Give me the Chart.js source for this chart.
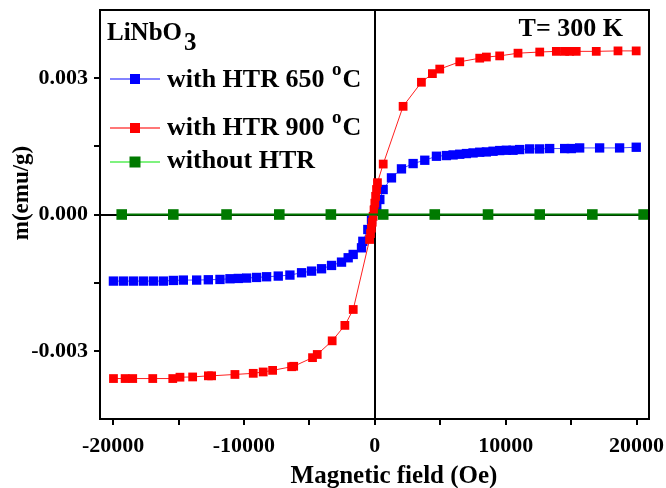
<!DOCTYPE html>
<html>
<head>
<meta charset="utf-8">
<script src="https://cdn.jsdelivr.net/npm/chart.js@4.4.1/dist/chart.umd.min.js"></script>
<style>
  html, body { margin: 0; padding: 0; background: #fff; }
  #box { width: 666px; height: 488px; position: relative; }
</style>
</head>
<body>
<div id="box"><canvas id="grafico"></canvas></div>
<script>
// valori (campo in Oe, m in emu/g)
const seriesNames = ['with HTR 650', 'with HTR 900', 'without HTR'];

const htr650 = [
  [-19975, -0.001465], [-19212, -0.001465], [-18448, -0.001465], [-17685, -0.001465],
  [-16922, -0.001465], [-16158, -0.001465], [-15395, -0.001451], [-14632, -0.001443],
  [-13614, -0.001443], [-12723, -0.001436], [-11833, -0.001429], [-11069, -0.001414],
  [-10433, -0.001407], [-9797, -0.001399], [-9033, -0.001385], [-8270, -0.00137],
  [-7379, -0.001355], [-6489, -0.001333], [-5598, -0.001282], [-4835, -0.001246],
  [-4071, -0.001194], [-3308, -0.001121], [-2545, -0.001048], [-2036, -0.000952],
  [-1654, -0.000879], [-1018, -0.000733], [-916, -0.00059], [-534, -0.00033],
  [-254, -0.00011], [0, 0.0001], [150, 0.0002], [382, 0.00033], [636, 0.00055],
  [1272, 0.000806], [2036, 0.001004], [2926, 0.001121], [3817, 0.001194],
  [4708, 0.001282], [5471, 0.001297], [5980, 0.001311], [6489, 0.001326],
  [6997, 0.001341], [7506, 0.001355], [8015, 0.00137], [8524, 0.001377],
  [9033, 0.001392], [9542, 0.001407], [10051, 0.001414], [10560, 0.001414],
  [11069, 0.001429], [11833, 0.001443], [12596, 0.001443], [13359, 0.001451],
  [14504, 0.001451], [15013, 0.001451], [15650, 0.001465], [17176, 0.001465],
  [18703, 0.001465], [19975, 0.00148]
];

const htr900 = [
  [-19970, -0.00361], [-19080, -0.00361], [-18500, -0.00361], [-16970, -0.00361],
  [-15440, -0.00361], [-14890, -0.00358], [-13920, -0.003575], [-12720, -0.00355],
  [-12470, -0.00355], [-10690, -0.00352], [-9290, -0.003495], [-8530, -0.003465],
  [-7810, -0.00343], [-6360, -0.00335], [-6200, -0.00334], [-4760, -0.00315],
  [-4400, -0.00308], [-3260, -0.00278], [-2290, -0.00244], [-1650, -0.00209],
  [-400, -0.00055], [-330, -0.00042], [-260, -0.0003], [-200, -0.00017],
  [-130, -0.00004], [-60, 0.0001], [0, 0.00025], [60, 0.0004], [130, 0.00055],
  [200, 0.0007], [640, 0.00111], [2160, 0.00238], [3560, 0.00291], [4400, 0.0031],
  [4960, 0.0032], [6490, 0.00336], [8015, 0.00344], [8525, 0.003465], [9540, 0.00349],
  [10940, 0.00355], [12600, 0.003575], [13870, 0.00359], [14500, 0.00359],
  [14890, 0.00359], [15390, 0.00359], [16920, 0.00359], [18580, 0.0036], [19970, 0.0036]
];

const senzaHTR = [
  [-19340, 0], [-15400, 0], [-11330, 0], [-7300, 0], [-3360, 0], [640, 0],
  [4580, 0], [8650, 0], [12600, 0], [16620, 0], [20540, 0]
];

const xTicks = [-20000, -15000, -10000, -5000, 0, 5000, 10000, 15000, 20000];
const xTickLabels = ['-20000', '', '-10000', '', '0', '', '10000', '', '20000'];
const yTicks = [-0.003, -0.0015, 0, 0.0015, 0.003];
const yTickLabels = ['-0.003', '', '0.000', '', '0.003'];

const toPts = arr => arr.map(p => ({ x: p[0], y: p[1] }));
const serif = "'Liberation Serif', 'Times New Roman', serif";

// cornice, titoli degli assi e legenda disegnati a mano
const cornice = {
  id: 'cornice',
  afterDatasetsDraw(chart) {
    const c = chart.ctx, a = chart.chartArea;
    c.save();
    c.strokeStyle = '#000';
    c.lineWidth = 2;
    c.strokeRect(a.left, a.top, a.right - a.left, a.bottom - a.top);
    c.restore();
  },
  afterDraw(chart) {
    const c = chart.ctx, a = chart.chartArea;
    c.save();
    c.fillStyle = '#000';
    c.textBaseline = 'alphabetic';

    // titoli assi
    c.font = 'bold 25px ' + serif;
    c.textAlign = 'center';
    c.fillText('Magnetic field (Oe)', 394, 483);
    c.save();
    c.translate(22, 193);
    c.rotate(-Math.PI / 2);
    c.font = 'bold 23px ' + serif;
    c.textBaseline = 'middle';
    c.fillText('m(emu/g)', 0, 0);
    c.restore();
    c.textAlign = 'left';

    // LiNbO3
    c.font = 'bold 25px ' + serif;
    c.fillText('LiNbO', a.left + 7, a.top + 30);
    let w = c.measureText('LiNbO').width;
    c.fillText('3', a.left + 9 + w, a.top + 40);
    // T= 300 K
    c.textAlign = 'right';
    c.font = 'bold 26px ' + serif;
    c.fillText('T= 300 K', a.right - 26, a.top + 26);
    c.textAlign = 'left';

    const righe = [
      { txt: seriesNames[0], grado: true, line: '#5a5aff', fill: '#0000ff', s: 10, dy: 69, by: 77 },
      { txt: seriesNames[1], grado: true, line: '#ff4a4a', fill: '#ff0000', s: 10, dy: 118, by: 125 },
      { txt: seriesNames[2], grado: false, line: '#55ee55', fill: '#007a00', s: 11, dy: 152, by: 158 }
    ];
    righe.forEach(r => {
      const y = a.top + r.dy;
      c.strokeStyle = r.line;
      c.lineWidth = 1.5;
      c.beginPath();
      c.moveTo(a.left + 10, y);
      c.lineTo(a.left + 60, y);
      c.stroke();
      c.fillStyle = r.fill;
      c.fillRect(a.left + 35 - r.s / 2, y - r.s / 2, r.s, r.s);
      c.fillStyle = '#000';
      c.font = 'bold 26px ' + serif;
      const x0 = a.left + 67, base = a.top + r.by;
      c.fillText(r.txt + (r.grado ? ' ' : ''), x0, base);
      if (r.grado) {
        const w1 = c.measureText(r.txt + ' ').width;
        c.font = 'bold 19px ' + serif;
        c.fillText('o', x0 + w1 + 1, base - 12);
        const w2 = c.measureText('o').width;
        c.font = 'bold 26px ' + serif;
        c.fillText('C', x0 + w1 + w2 + 2, base);
      }
    });
    c.restore();
  }
};

const zeroColor = ctx => (ctx.tick && ctx.tick.value === 0) ? '#000' : 'rgba(0,0,0,0)';

new Chart(document.getElementById('grafico'), {
  type: 'scatter',
  data: {
    datasets: [
      {
        label: seriesNames[2],
        data: toPts(senzaHTR),
        showLine: true,
        borderColor: '#007a00',
        borderWidth: 2,
        backgroundColor: '#007a00',
        pointStyle: 'rect',
        pointRadius: 7.5,
        pointBorderWidth: 0,
        order: 0
      },
      {
        label: seriesNames[1],
        data: toPts(htr900),
        showLine: true,
        borderColor: '#ff2020',
        borderWidth: 1,
        backgroundColor: '#ff0000',
        pointStyle: 'rect',
        pointRadius: 6.2,
        pointBorderWidth: 0,
        order: 1
      },
      {
        label: seriesNames[0],
        data: toPts(htr650),
        showLine: true,
        borderColor: '#4a4aff',
        borderWidth: 1,
        backgroundColor: '#0000ff',
        pointStyle: 'rect',
        pointRadius: 6.6,
        pointBorderWidth: 0,
        order: 2
      }
    ]
  },
  options: {
    responsive: true,
    maintainAspectRatio: false,
    animation: false,
    layout: { padding: { left: 0, top: 10, right: 17, bottom: 0 } },
    plugins: {
      legend: { display: false },
      tooltip: { enabled: false }
    },
    scales: {
      x: {
        type: 'linear',
        min: -21000,
        max: 20950,
        afterBuildTicks: s => { s.ticks = xTicks.map(v => ({ value: v })); },
        afterFit: s => { s.height = 69; s.paddingLeft = 0; s.paddingRight = 0; },
        border: { display: true, color: '#000', width: 2 },
        grid: { drawOnChartArea: true, color: zeroColor, tickColor: '#000', lineWidth: 2, tickLength: 6 },
        ticks: {
          color: '#000',
          padding: 8,
          maxRotation: 0,
          autoSkip: false,
          font: { family: serif, size: 22, weight: 'bold' },
          callback: (v, i) => xTickLabels[i]
        },
        title: { display: false }
      },
      y: {
        type: 'linear',
        min: -0.0045,
        max: 0.0045,
        afterBuildTicks: s => { s.ticks = yTicks.map(v => ({ value: v })); },
        afterFit: s => { s.width = 100; s.paddingTop = 0; s.paddingBottom = 0; },
        border: { display: true, color: '#000', width: 2 },
        grid: { drawOnChartArea: true, color: zeroColor, tickColor: '#000', lineWidth: 2, tickLength: 6 },
        ticks: {
          color: '#000',
          padding: 6,
          autoSkip: false,
          font: { family: serif, size: 22, weight: 'bold' },
          callback: (v, i) => yTickLabels[i]
        },
        title: { display: false }
      }
    }
  },
  plugins: [cornice]
});
</script>
</body>
</html>
